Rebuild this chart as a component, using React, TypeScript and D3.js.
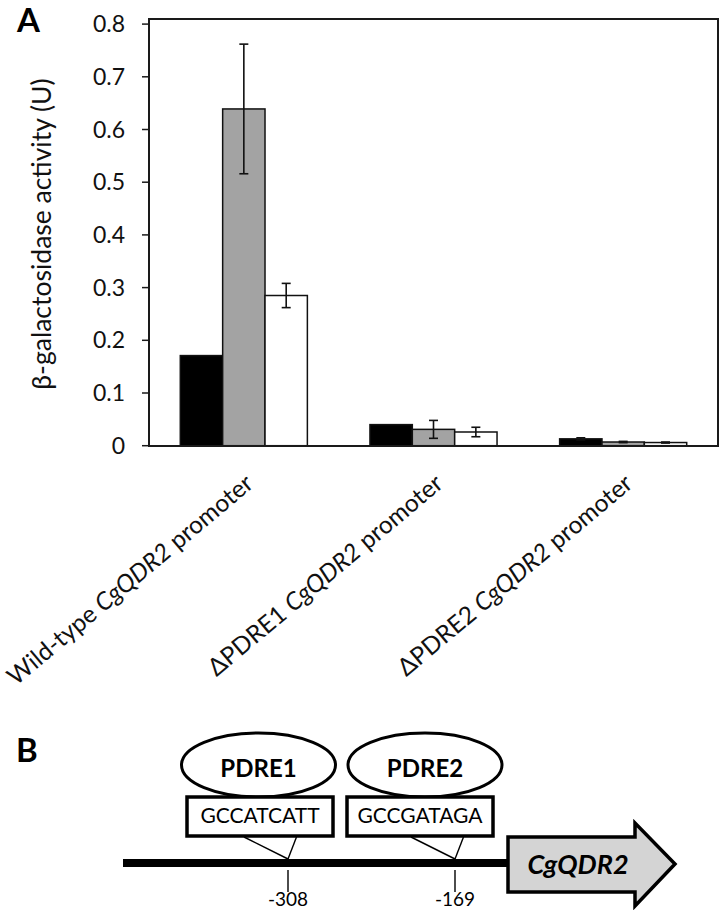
import React from "react";
import * as d3 from "d3";

// ---------- Panel A data ----------
const categories = ["Wild-type", "ΔPDRE1", "ΔPDRE2"];
const geneName = "CgQDR2";
const categorySuffix = "promoter";
const seriesKeys = ["black", "gray", "white"];
const blackValues = [0.171, 0.04, 0.013];
const blackErrors = [0, 0, 0.002];
const grayValues = [0.639, 0.031, 0.007];
const grayErrors = [0.123, 0.017, 0.0012];
const whiteValues = [0.285, 0.026, 0.006];
const whiteErrors = [0.023, 0.009, 0.001];
const yTicks = [0, 0.1, 0.2, 0.3, 0.4, 0.5, 0.6, 0.7, 0.8];
const yTickLabels = ["0", "0.1", "0.2", "0.3", "0.4", "0.5", "0.6", "0.7", "0.8"];
const yAxisTitle = "β-galactosidase activity (U)";

// ---------- Panel B data ----------
const siteNames = ["PDRE1", "PDRE2"];
const siteSequences = ["GCCATCATT", "GCCGATAGA"];
const sitePositions = [-308, -169];

const FONT = "Lato, 'Open Sans', sans-serif";

export default function App() {
  const values = [blackValues, grayValues, whiteValues];
  const errors = [blackErrors, grayErrors, whiteErrors];
  const fills = ["#000000", "#a3a3a3", "#ffffff"];

  const plotL = 149, plotR = 718, plotT = 19, plotB = 446;
  const x0 = d3.scaleBand<string>().domain(categories).range([plotL, plotR]).paddingInner(0.33).paddingOuter(0.165);
  const x1 = d3.scaleBand<string>().domain(seriesKeys).range([0, x0.bandwidth()]);
  const y = d3.scaleLinear().domain([0, 0.8]).range([445.7, 24.1]);

  // Panel B scale (schematic genomic coordinate)
  const bp = d3.scaleLinear().domain([sitePositions[0], sitePositions[1]]).range([288, 455]);
  const boxCenters = [260, 420];
  const ellCenters = [258.5, 425];

  const capW = 9;

  return (
    <svg width={720} height={910} style={{ position: "absolute", left: 0, top: 0, background: "#fff" }} fontFamily={FONT}>
      <rect x={0} y={0} width={720} height={910} fill="#fff" />
      {/* Panel label A */}
      <text x={17} y={32} fontSize={33} fontWeight={700}>A</text>

      {/* bars */}
      {categories.map((c, ci) => (
        <g key={c}>
          {seriesKeys.map((s, si) => {
            const v = values[si][ci];
            const bx = (x0(c) as number) + (x1(s) as number);
            return (
              <rect key={s} x={bx} y={y(v)} width={x1.bandwidth()} height={y(0) - y(v)}
                fill={fills[si]} stroke="#111" strokeWidth={1.5} />
            );
          })}
          {seriesKeys.map((s, si) => {
            const v = values[si][ci];
            const e = errors[si][ci];
            if (e <= 0) return null;
            const cx = (x0(c) as number) + (x1(s) as number) + x1.bandwidth() / 2;
            return (
              <g key={"e" + s} stroke="#111" strokeWidth={1.6}>
                <line x1={cx} x2={cx} y1={y(v + e)} y2={y(v - e)} />
                <line x1={cx - capW / 2} x2={cx + capW / 2} y1={y(v + e)} y2={y(v + e)} />
                <line x1={cx - capW / 2} x2={cx + capW / 2} y1={y(v - e)} y2={y(v - e)} />
              </g>
            );
          })}
        </g>
      ))}

      {/* plot frame */}
      <rect x={plotL} y={plotT} width={plotR - plotL} height={plotB - plotT} fill="none" stroke="#1a1a1a" strokeWidth={2} />

      {/* y ticks */}
      {yTicks.map((t, i) => (
        <g key={t}>
          <line x1={142} x2={plotL} y1={y(t)} y2={y(t)} stroke="#1a1a1a" strokeWidth={1.5} />
          <text x={125} y={y(t) + 8} fontSize={23} textAnchor="end" fill="#111">{yTickLabels[i]}</text>
        </g>
      ))}

      {/* y title */}
      <text transform={`translate(51,234) rotate(-90)`} fontSize={26.5} textAnchor="middle" fill="#111">{yAxisTitle}</text>

      {/* x category labels */}
      {categories.map((c) => {
        const cx = (x0(c) as number) + x0.bandwidth() / 2;
        return (
          <text key={"lab" + c} transform={`translate(${cx + 11},486) rotate(-40)`} fontSize={24.5} textAnchor="end" fill="#111">
            {c + " "}
            <tspan fontStyle="italic">{geneName}</tspan>
            {" " + categorySuffix}
          </text>
        );
      })}

      {/* Panel B */}
      <text x={16} y={762} fontSize={33} fontWeight={700}>B</text>

      {/* DNA line */}
      <line x1={123} x2={512} y1={863} y2={863} stroke="#000" strokeWidth={8} />

      {/* Gene arrow */}
      <path d="M508,837 L635,837 L635,823 L675,864 L635,906 L635,892 L508,892 Z" fill="#d4d4d4" stroke="#000" strokeWidth={3.5} strokeLinejoin="miter" />
      <text x={578} y={874} fontSize={27} fontWeight={700} fontStyle="italic" textAnchor="middle">{geneName}</text>

      {siteNames.map((n, i) => {
        const sx = bp(sitePositions[i]);
        const bc = boxCenters[i];
        const ec = ellCenters[i];
        return (
          <g key={n}>
            <ellipse cx={ec} cy={765} rx={77} ry={32} fill="#fff" stroke="#000" strokeWidth={3} />
            <text x={ec} y={777} fontSize={24} fontWeight={700} textAnchor="middle">{n}</text>
            <rect x={bc - 73} y={797} width={146} height={39} fill="#fff" stroke="#000" strokeWidth={3.5} />
            <text x={bc} y={823} fontSize={21} textAnchor="middle">{siteSequences[i]}</text>
            <line x1={sx - 44} y1={837} x2={sx} y2={859} stroke="#000" strokeWidth={1.4} />
            <line x1={sx + 8.5} y1={837} x2={sx} y2={859} stroke="#000" strokeWidth={1.4} />
            <line x1={sx} y1={870} x2={sx} y2={892} stroke="#000" strokeWidth={1.4} />
            <text x={sx} y={906} fontSize={19} textAnchor="middle">{String(sitePositions[i])}</text>
          </g>
        );
      })}
    </svg>
  );
}
